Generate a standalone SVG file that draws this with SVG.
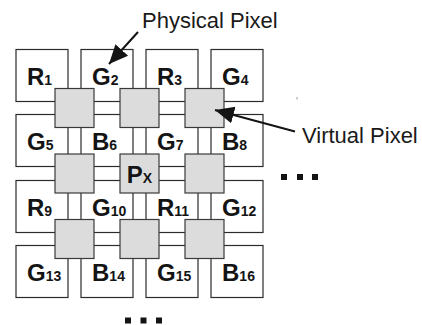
<svg xmlns="http://www.w3.org/2000/svg" width="422" height="325" viewBox="0 0 422 325">
<style>
.box{fill:#ffffff;stroke:#2b2b2b;stroke-width:1.2}
.vp{fill:#dcdcdc;stroke:#3a3a3a;stroke-width:1.2}
.lbl{font-family:"Liberation Sans",Arial,sans-serif;font-weight:bold;font-size:24px;fill:#141414}
.sub{font-size:14px}
.cap{font-family:"Liberation Sans",Arial,sans-serif;font-size:22px;fill:#1a1a1a}
.arr{stroke:#141414;stroke-width:2;fill:none}
.dot{fill:#141414}
</style>
<defs>
<marker id="ah" markerUnits="userSpaceOnUse" markerWidth="20" markerHeight="20" viewBox="0 0 20 20" refX="19" refY="10" orient="auto">
<path d="M0,1.5 L19,10 L0,18.5 Z" fill="#141414"/>
</marker>
</defs>
<g id="physical-pixels">
<g id="p1"><rect class="box" x="16" y="49.5" width="52" height="52"/><text class="lbl" x="27" y="85">R<tspan class="sub">1</tspan></text></g>
<g id="p2"><rect class="box" x="81" y="49.5" width="52" height="52"/><text class="lbl" x="92" y="85">G<tspan class="sub">2</tspan></text></g>
<g id="p3"><rect class="box" x="146" y="49.5" width="52" height="52"/><text class="lbl" x="157" y="85">R<tspan class="sub">3</tspan></text></g>
<g id="p4"><rect class="box" x="211" y="49.5" width="52" height="52"/><text class="lbl" x="222" y="85">G<tspan class="sub">4</tspan></text></g>
<g id="p5"><rect class="box" x="16" y="114.5" width="52" height="52"/><text class="lbl" x="27" y="150">G<tspan class="sub">5</tspan></text></g>
<g id="p6"><rect class="box" x="81" y="114.5" width="52" height="52"/><text class="lbl" x="92" y="150">B<tspan class="sub">6</tspan></text></g>
<g id="p7"><rect class="box" x="146" y="114.5" width="52" height="52"/><text class="lbl" x="157" y="150">G<tspan class="sub">7</tspan></text></g>
<g id="p8"><rect class="box" x="211" y="114.5" width="52" height="52"/><text class="lbl" x="222" y="150">B<tspan class="sub">8</tspan></text></g>
<g id="p9"><rect class="box" x="16" y="180.5" width="52" height="52"/><text class="lbl" x="27" y="216">R<tspan class="sub">9</tspan></text></g>
<g id="p10"><rect class="box" x="81" y="180.5" width="52" height="52"/><text class="lbl" x="92" y="216">G<tspan class="sub">10</tspan></text></g>
<g id="p11"><rect class="box" x="146" y="180.5" width="52" height="52"/><text class="lbl" x="157" y="216">R<tspan class="sub">11</tspan></text></g>
<g id="p12"><rect class="box" x="211" y="180.5" width="52" height="52"/><text class="lbl" x="222" y="216">G<tspan class="sub">12</tspan></text></g>
<g id="p13"><rect class="box" x="16" y="245.5" width="52" height="52"/><text class="lbl" x="27" y="281">G<tspan class="sub">13</tspan></text></g>
<g id="p14"><rect class="box" x="81" y="245.5" width="52" height="52"/><text class="lbl" x="92" y="281">B<tspan class="sub">14</tspan></text></g>
<g id="p15"><rect class="box" x="146" y="245.5" width="52" height="52"/><text class="lbl" x="157" y="281">G<tspan class="sub">15</tspan></text></g>
<g id="p16"><rect class="box" x="211" y="245.5" width="52" height="52"/><text class="lbl" x="222" y="281">B<tspan class="sub">16</tspan></text></g>
</g>
<g id="virtual-pixels">
<g id="v1"><rect class="vp" x="55" y="88.5" width="39" height="39"/></g>
<g id="v2"><rect class="vp" x="120" y="88.5" width="39" height="39"/></g>
<g id="v3"><rect class="vp" x="185" y="88.5" width="39" height="39"/></g>
<g id="v4"><rect class="vp" x="55" y="154" width="39" height="39"/></g>
<g id="v5"><rect class="vp" x="120" y="154" width="39" height="39"/><text class="lbl" x="139.5" y="183" text-anchor="middle">P<tspan class="sub">X</tspan></text></g>
<g id="v6"><rect class="vp" x="185" y="154" width="39" height="39"/></g>
<g id="v7"><rect class="vp" x="55" y="219.5" width="39" height="39"/></g>
<g id="v8"><rect class="vp" x="120" y="219.5" width="39" height="39"/></g>
<g id="v9"><rect class="vp" x="185" y="219.5" width="39" height="39"/></g>
</g>
<g id="label-physical"><text class="cap" x="142" y="28">Physical Pixel</text></g>
<g id="label-virtual"><text class="cap" x="302" y="142.5">Virtual Pixel</text></g>
<g id="ellipsis-right"><rect class="dot" x="281" y="174" width="6" height="6"/><rect class="dot" x="297" y="174" width="6" height="6"/><rect class="dot" x="312" y="174" width="6" height="6"/></g>
<g id="ellipsis-bottom"><rect class="dot" x="125" y="317.5" width="6" height="6"/><rect class="dot" x="140.5" y="317.5" width="6" height="6"/><rect class="dot" x="156" y="317.5" width="6" height="6"/></g>
<rect x="296.5" y="97" width="1" height="2.5" fill="#999"/>
<g id="connectors">
<line class="arr" x1="138" y1="32" x2="109" y2="64" marker-end="url(#ah)"/>
<line class="arr" x1="295" y1="131.5" x2="215" y2="110" marker-end="url(#ah)"/>
</g>
</svg>
